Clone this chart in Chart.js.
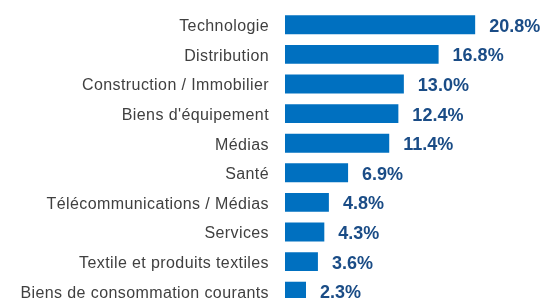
<!DOCTYPE html>
<html>
<head>
<meta charset="utf-8">
<script src="https://cdn.jsdelivr.net/npm/chart.js@4/dist/chart.umd.min.js"></script>
<style>
  html, body { margin: 0; padding: 0; overflow: hidden; background: #fff; }
  #wrap { position: relative; width: 545px; height: 306px; }
</style>
</head>
<body>
<div id="wrap"><canvas id="secteursChart"></canvas></div>
<script>
const secteurs = [
  'Technologie',
  'Distribution',
  'Construction / Immobilier',
  "Biens d'équipement",
  'Médias',
  'Santé',
  'Télécommunications / Médias',
  'Services',
  'Textile et produits textiles',
  'Biens de consommation courants'
];
const parts = [20.8, 16.8, 13.0, 12.4, 11.4, 6.9, 4.8, 4.3, 3.6, 2.3];

// libellés : léger espacement et petit décalage vers le bas
const libellesPlugin = {
  id: 'libelles',
  beforeDraw(chart) {
    chart.ctx.letterSpacing = '0.4px';
    chart.ctx.translate(0, 2);
  },
  beforeDatasetsDraw(chart) {
    chart.ctx.translate(0, -2);
    chart.ctx.letterSpacing = '0px';
  }
};

// étiquettes de valeur à droite des barres
const valeursPlugin = {
  id: 'valeurs',
  afterDatasetsDraw(chart) {
    const ctx = chart.ctx;
    const meta = chart.getDatasetMeta(0);
    ctx.save();
    ctx.font = 'bold 18px "Liberation Sans", Arial, sans-serif';
    ctx.fillStyle = '#1a4c86';
    ctx.textAlign = 'left';
    ctx.textBaseline = 'middle';
    meta.data.forEach((bar, i) => {
      ctx.fillText(parts[i].toFixed(1) + '%', bar.x + 14, bar.y + 2);
    });
    ctx.restore();
  }
};

const secteursChart = new Chart(
  document.querySelector('#secteursChart'),
  {
    type: 'bar',
    data: {
      labels: secteurs,
      datasets: [{
        data: parts,
        backgroundColor: '#0070c0',
        barPercentage: 0.64,
        categoryPercentage: 1
      }]
    },
    options: {
      indexAxis: 'y',
      responsive: true,
      maintainAspectRatio: false,
      animation: false,
      layout: { padding: { top: 10, right: 4, bottom: 0, left: 0 } },
      plugins: {
        legend: { display: false },
        tooltip: { enabled: false }
      },
      scales: {
        x: {
          display: false,
          min: 0,
          max: 28
        },
        y: {
          grid: { display: false, drawTicks: false },
          border: { display: false },
          ticks: {
            padding: 16,
            color: '#404040',
            font: { family: '"Liberation Sans", Arial, sans-serif', size: 16 }
          },
          afterFit(scale) {
            scale.width = 285;
            scale.paddingTop = 0;
            scale.paddingBottom = 0;
          }
        }
      }
    },
    plugins: [libellesPlugin, valeursPlugin]
  }
);
</script>
</body>
</html>
